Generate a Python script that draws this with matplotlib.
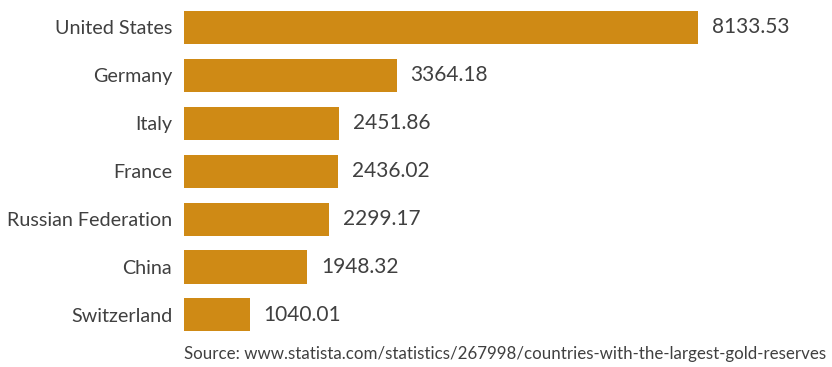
import matplotlib
matplotlib.use("Agg")
import matplotlib.pyplot as plt

countries = ["United States", "Germany", "Italy", "France", "Russian Federation", "China", "Switzerland"]
values = [8133.53, 3364.18, 2451.86, 2436.02, 2299.17, 1948.32, 1040.01]
source = "Source: www.statista.com/statistics/267998/countries-with-the-largest-gold-reserves"

plt.rcParams['font.family'] = ['Lato', 'DejaVu Sans']

fig = plt.figure(figsize=(8.32, 3.67), dpi=100)
ax = fig.add_axes([184/832, 24/367, 648/832, 343/367])
bar_color = "#CF8A15"
text_color = "#404040"

ypos = list(range(len(countries)))
ax.barh(ypos, values, height=0.69, color=bar_color)
ax.set_xlim(0, 10253)
ax.set_ylim(6.587, -0.574)
ax.set_yticks(ypos)
ax.set_yticklabels(countries, fontsize=14.2, color=text_color)
ax.tick_params(axis='y', length=0, pad=8.5)
ax.set_xticks([])
for s in ax.spines.values():
    s.set_visible(False)

for y, v in zip(ypos, values):
    ax.annotate(f"{v:.2f}", xy=(v, y), xytext=(10, 0), textcoords="offset points",
                ha="left", va="center", fontsize=15, color=text_color)

fig.text(184/832, 1 - 354/367, source, ha="left", va="center", fontsize=12.15,
         color=text_color)

fig.savefig("out.png", dpi=100)
